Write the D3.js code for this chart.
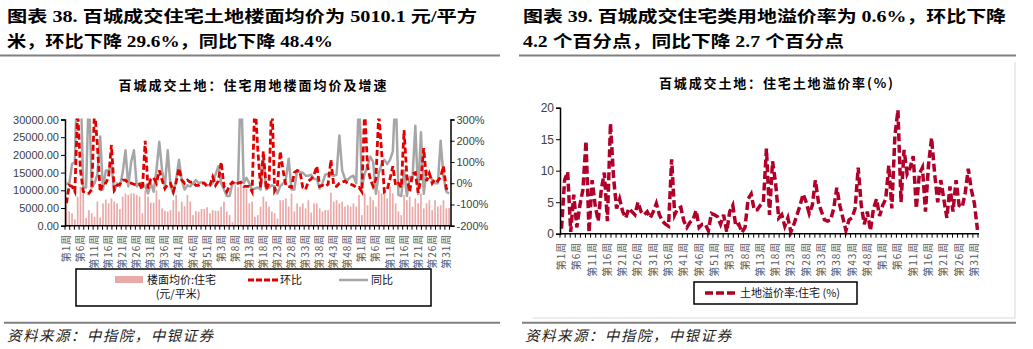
<!DOCTYPE html>
<html>
<head>
<meta charset="utf-8">
<script src="https://cdn.jsdelivr.net/npm/d3@7"></script>
<style>
  body { margin: 0; background: #fff; }
  svg text { font-family: "Liberation Sans Narrow", "Liberation Sans", Arial, sans-serif; }
  .cjk { font-family: "Liberation Serif", "Noto Sans CJK SC", serif !important; }
  .sans { font-family: "Noto Sans CJK SC", sans-serif !important; }
</style>
</head>
<body>
<svg id="chart" width="1033" height="349"></svg>
<script>
// weeks per year on the category axis (labels are 第n周)
const yearWeeks = [53, 52, 32];
const categories = yearWeeks.flatMap((n) => d3.range(1, n + 1).map((w) => `第${w}周`));

// 楼面均价:住宅 (元/平米)
const price = [
  6000, 4000, 3500, 1800, 8200, 11000, 9000, 2200, 4400, 3500,
  2500, 6800, 2300, 6300, 7400, 6300, 7700, 6800, 6300, 4700,
  8200, 9100, 8700, 9100, 9100, 8700, 8200, 3500, 10000, 8200,
  6500, 6500, 10000, 7400, 4900, 4200, 4000, 4400, 7200, 8700,
  4000, 6800, 5500, 8700, 6800, 3000, 4100, 4000, 4700, 4700,
  5200, 3500, 4400, 4200, 4200, 5400, 6800, 4000, 3000, 1000,
  11500, 11000, 12000, 11000, 10500, 6300, 6800, 2500, 3000, 5400,
  8200, 6800, 5400, 4000, 3500, 2000, 7200, 7200, 7700, 5400,
  9100, 4000, 6300, 5400, 6300, 4900, 7200, 3700, 6300, 6300,
  4900, 4000, 4400, 4400, 9300, 6800, 7200, 6300, 6800, 5400,
  5800, 5400, 6300, 5400, 8700, 3000, 9100, 5800, 8200, 7200,
  5400, 10000, 9100, 10000, 7700, 11000, 9100, 6300, 4000, 3000,
  8700, 7200, 8200, 5400, 7700, 6300, 9100, 4900, 6300, 7200,
  4400, 7200, 5400, 5800, 7200, 4900, 5010.1,
];

// 环比 (%)
const mom = [
  -95, -10, -15, -40, 350, 60, -40, -48, -48, -30,
  350, 180, -40, 0, 0, 30, 180, -32, -10, -5,
  15, 15, 0, 0, -5, -10, -5, -30, 200, -25,
  20, 25, 0, 60, 15, -25, -5, 0, -40, 5,
  70, 15, 0, 15, 5, 5, -10, -10, 0, 0,
  -15, -10, 30, -10, 10, 100, -15, -40, -10, 5,
  -5, 0, 5, -15, -15, -15, -40, 400, 160, -20,
  150, -30, 0, 400, -35, -10, 150, 60, -10, -15,
  -20, 50, 60, 55, -20, -30, 10, 20, 40, 80,
  -15, -10, -15, -5, 110, -10, -15, 0, 5, 10,
  0, -5, -10, -20, -20, -40, 350, 80, 20, -15,
  20, 330, 150, -40, -30, 20, 80, -10, 0, -20,
  250, 30, -40, 45, 50, -45, 20, 165, 10, 45,
  0, 20, 10, 30, 80, -25, -29.6,
];

// 同比 (%)
const yoy = [
  0, -5, 90, 100, 600, 500, -20, -20, 450, -20,
  0, 40, 220, -30, 60, 60, 85, -40, 0, -15,
  50, 155, -15, 100, 155, -15, 0, 0, -15, -48,
  0, -40, 60, 195, 60, -15, 155, -15, -48, 15,
  110, 15, -30, -10, -15, 0, 15, 0, 5, 0,
  -10, -10, 0, 40, 80, 0, -30, -60, -60, 0,
  0, 0, 500, 0, 25, 0, -30, -25, -20, -30,
  125, -30, -20, -10, -15, -48, -15, 0, 20, 115,
  -30, -30, 60, 50, 50, 35, 35, 40, 20, 20,
  -25, 0, 40, 45, 40, 35, 40, 225, 60, 20,
  15, 30, 35, 0, 450, -20, 45, 80, 125, 100,
  -50, 45, 90, 110, 90, 110, 150, 450, -55, -60,
  60, -60, 30, 25, 270, -50, 240, -50, 60, 45,
  15, 0, 0, 200, 30, -40, -48.4,
];

// 土地溢价率:住宅 (%)
const premium = [
  0.8, 8.5, 9.8, 0.3, 6.2, 1.0, 4.5, 7.0, 14.7, 0.2,
  8.5, 4.5, 2.0, 7.0, 9.7, 2.0, 17.5, 9.0, 4.0, 5.5,
  3.5, 2.5, 4.0, 3.5, 3.0, 5.0, 3.5, 3.0, 3.5, 2.5,
  3.5, 4.8, 3.0, 2.0, 1.5, 1.2, 11.8, 3.0, 4.0, 4.2,
  2.0, 1.0, 1.8, 2.2, 3.7, 1.0, 1.5, 1.5, 0.5, 3.2,
  3.0, 2.7, 1.5, 3.0, 0.3, 3.5, 4.5, 1.2, 1.5, 0.2,
  1.0, 5.5, 6.3, 3.8, 3.8, 4.5, 5.0, 13.5, 3.0, 11.5,
  8.0, 2.5, 3.0, 1.2, 2.5, 0.3, 1.5, 3.0, 4.5, 6.3,
  5.0, 3.2, 4.5, 8.5, 5.0, 3.5, 2.2, 2.0, 2.2, 4.0,
  7.3, 4.5, 2.5, 0.5, 2.2, 2.5, 4.0, 10.5, 4.5, 1.5,
  3.5, 0.5, 4.0, 5.5, 2.8, 4.5, 5.5, 10.8, 4.0, 15.5,
  19.6, 5.0, 13.3, 9.5, 10.5, 12.3, 4.0, 9.5, 10.5, 3.5,
  11.0, 15.2, 9.5, 5.0, 8.5, 5.5, 2.5, 7.5, 3.5, 8.5,
  4.5, 4.2, 6.5, 10.3, 7.0, 4.8, 0.6,
];

const priceTicks = [0, 5000, 10000, 15000, 20000, 25000, 30000];
const pctTicks = [-200, -100, 0, 100, 200, 300];
const premiumTicks = [0, 5, 10, 15, 20];

const N = categories.length;
const svg = d3.select('#chart');
const axisColor = '#000';
const labelColor = '#404040';

function headerText(x, y, str, len) {
  svg.append('text')
    .attr('class', 'cjk')
    .attr('x', x).attr('y', y)
    .attr('font-size', 16).attr('font-weight', 'bold')
    .attr('textLength', len).attr('lengthAdjust', 'spacingAndGlyphs')
    .text(str);
}

function rule(x1, x2, y) {
  svg.append('line')
    .attr('x1', x1).attr('x2', x2).attr('y1', y).attr('y2', y)
    .attr('stroke', '#808080').attr('stroke-width', 2);
}

function footer(x) {
  svg.append('text')
    .attr('class', 'sans')
    .attr('x', x).attr('y', 341)
    .attr('font-size', 14.5).attr('font-style', 'italic')
    .attr('textLength', 206).attr('lengthAdjust', 'spacing')
    .attr('fill', '#222')
    .text('资料来源：中指院，中银证券');
}

// headers
headerText(7, 22, '图表 38. 百城成交住宅土地楼面均价为 5010.1 元/平方', 470);
headerText(7, 47, '米，环比下降 29.6%，同比下降 48.4%', 326);
headerText(523, 22, '图表 39. 百城成交住宅类用地溢价率为 0.6%，环比下降', 483);
headerText(523, 47, '4.2 个百分点，同比下降 2.7 个百分点', 321);
rule(0, 500, 55.5);
rule(519, 1016, 55.5);
rule(4, 500, 322.7);
rule(522, 1016, 322.7);
footer(7);
footer(525);

// light frame of the right chart (only right and bottom edges show)
svg.append('path')
  .attr('d', d3.line()([[1015, 62], [1015, 318], [533, 318]]))
  .attr('fill', 'none').attr('stroke', '#d9d9d9').attr('stroke-width', 1);

function chartTitle(cx, y, str, len) {
  svg.append('text')
    .attr('class', 'sans')
    .attr('x', cx).attr('y', y)
    .attr('text-anchor', 'middle')
    .attr('font-size', 13).attr('font-weight', 'bold')
    .attr('textLength', len).attr('lengthAdjust', 'spacing')
    .text(str);
}

function categoryAxis(g, x, yBot) {
  const step = x.step();
  const [r0, r1] = x.range();
  g.append('line')
    .attr('x1', r0).attr('x2', r1).attr('y1', yBot).attr('y2', yBot)
    .attr('stroke', axisColor).attr('stroke-width', 1.5);
  // three tick marks per labelled interval of five weeks
  g.selectAll('.xtick')
    .data(d3.range(0, N + 0.01, 5 / 3))
    .join('line')
    .attr('class', 'xtick')
    .attr('x1', (d) => r0 + d * step).attr('x2', (d) => r0 + d * step)
    .attr('y1', yBot).attr('y2', yBot + 4)
    .attr('stroke', axisColor).attr('stroke-width', 1);
  g.selectAll('.xlab')
    .data(d3.range(0, N, 5))
    .join('text')
    .attr('class', 'xlab sans')
    .attr('transform', (i) => `translate(${x(i) + step / 2},${yBot + 8}) rotate(-90)`)
    .attr('text-anchor', 'end')
    .attr('dy', '0.35em')
    .attr('font-size', 10)
    .attr('letter-spacing', 1)
    .attr('fill', '#595959')
    .text((i) => categories[i]);
}

function styleAxis(g) {
  g.select('.domain').attr('stroke', axisColor).attr('stroke-width', 1.5);
  g.selectAll('.tick line').attr('stroke', axisColor);
  g.selectAll('.tick text').attr('fill', labelColor).attr('font-size', 11);
}

// ---------------- left chart ----------------
{
  const L = { x0: 65, x1: 450.5, top: 119.5, bot: 225.7 };
  const x = d3.scaleBand().domain(d3.range(N)).range([L.x0, L.x1]).paddingInner(0);
  const yL = d3.scaleLinear().domain([0, 30000]).range([L.bot, L.top]);
  const yR = d3.scaleLinear().domain([-200, 300]).range([L.bot, L.top]);

  chartTitle(252.5, 90, '百城成交土地：住宅用地楼面均价及增速', 268);

  svg.append('clipPath').attr('id', 'clipL')
    .append('rect').attr('x', L.x0).attr('y', L.top - 1)
    .attr('width', L.x1 - L.x0).attr('height', L.bot - L.top + 1);

  const plot = svg.append('g').attr('clip-path', 'url(#clipL)');
  const bw = x.step() * 0.6;
  plot.selectAll('.bar')
    .data(price)
    .join('rect')
    .attr('class', 'bar')
    .attr('x', (d, i) => x(i) + (x.step() - bw) / 2)
    .attr('width', bw)
    .attr('y', (d) => yL(d))
    .attr('height', (d) => yL(0) - yL(d))
    .attr('fill', '#eaa9a9');

  const cx = (d, i) => x(i) + x.step() / 2;
  plot.append('path')
    .datum(yoy)
    .attr('d', d3.line().x(cx).y((d) => yR(d)))
    .attr('fill', 'none').attr('stroke', '#a6a6a6').attr('stroke-width', 2.5)
    .attr('stroke-linejoin', 'round');
  plot.append('path')
    .datum(mom)
    .attr('d', d3.line().x(cx).y((d) => yR(d)))
    .attr('fill', 'none').attr('stroke', '#e00000').attr('stroke-width', 2.8)
    .attr('stroke-dasharray', '6,3');

  const gl = svg.append('g').attr('transform', `translate(${L.x0},0)`)
    .call(d3.axisLeft(yL).tickValues(priceTicks).tickSize(4).tickPadding(2)
      .tickFormat(d3.format('.2f')));
  styleAxis(gl);
  const gr = svg.append('g').attr('transform', `translate(${L.x1},0)`)
    .call(d3.axisRight(yR).tickValues(pctTicks).tickSize(4).tickPadding(2)
      .tickFormat((d) => `${d}%`));
  styleAxis(gr);
  categoryAxis(svg.append('g'), x, L.bot);

  // legend
  const lg = svg.append('g');
  lg.append('rect').attr('x', 76).attr('y', 269).attr('width', 355).attr('height', 37)
    .attr('fill', 'none').attr('stroke', '#000').attr('stroke-width', 1.5);
  lg.append('rect').attr('x', 115).attr('y', 276).attr('width', 28).attr('height', 7)
    .attr('fill', '#eaa9a9');
  lg.append('text').attr('class', 'sans').attr('x', 147).attr('y', 284)
    .attr('font-size', 11).attr('fill', '#111').text('楼面均价:住宅');
  lg.append('text').attr('class', 'sans').attr('x', 178).attr('y', 298)
    .attr('text-anchor', 'middle').attr('font-size', 11).attr('fill', '#111').text('(元/平米)');
  lg.append('line').attr('x1', 248).attr('x2', 278).attr('y1', 280).attr('y2', 280)
    .attr('stroke', '#e00000').attr('stroke-width', 2.8).attr('stroke-dasharray', '6,2');
  lg.append('text').attr('class', 'sans').attr('x', 280).attr('y', 284)
    .attr('font-size', 11).attr('fill', '#111').text('环比');
  lg.append('line').attr('x1', 339).attr('x2', 368).attr('y1', 280).attr('y2', 280)
    .attr('stroke', '#a6a6a6').attr('stroke-width', 2.5);
  lg.append('text').attr('class', 'sans').attr('x', 371).attr('y', 284)
    .attr('font-size', 11).attr('fill', '#111').text('同比');
}

// ---------------- right chart ----------------
{
  const R = { x0: 560, x1: 979, top: 107.7, bot: 233.7 };
  const x = d3.scaleBand().domain(d3.range(N)).range([R.x0, R.x1]).paddingInner(0);
  const y = d3.scaleLinear().domain([0, 20]).range([R.bot, R.top]);

  chartTitle(776, 88, '百城成交土地：住宅土地溢价率(%)', 234);

  svg.append('path')
    .datum(premium)
    .attr('d', d3.line().x((d, i) => x(i) + x.step() / 2).y((d) => y(d)))
    .attr('fill', 'none').attr('stroke', '#b0002a').attr('stroke-width', 3.5)
    .attr('stroke-dasharray', '8,3.5');

  const gy = svg.append('g').attr('transform', `translate(${R.x0},0)`)
    .call(d3.axisLeft(y).tickValues(premiumTicks).tickSize(4).tickPadding(2));
  styleAxis(gy);
  gy.selectAll('.tick text').attr('font-size', 12);
  categoryAxis(svg.append('g'), x, R.bot);

  const lg = svg.append('g');
  lg.append('rect').attr('x', 694).attr('y', 282).attr('width', 163).attr('height', 22)
    .attr('fill', 'none').attr('stroke', '#000').attr('stroke-width', 1.5);
  lg.append('line').attr('x1', 705).attr('x2', 738).attr('y1', 293).attr('y2', 293)
    .attr('stroke', '#b0002a').attr('stroke-width', 3.5).attr('stroke-dasharray', '8,3');
  lg.append('text').attr('class', 'sans').attr('x', 740).attr('y', 297)
    .attr('font-size', 11).attr('fill', '#111')
    .text('土地溢价率:住宅 (%)');
}
</script>
</body>
</html>
